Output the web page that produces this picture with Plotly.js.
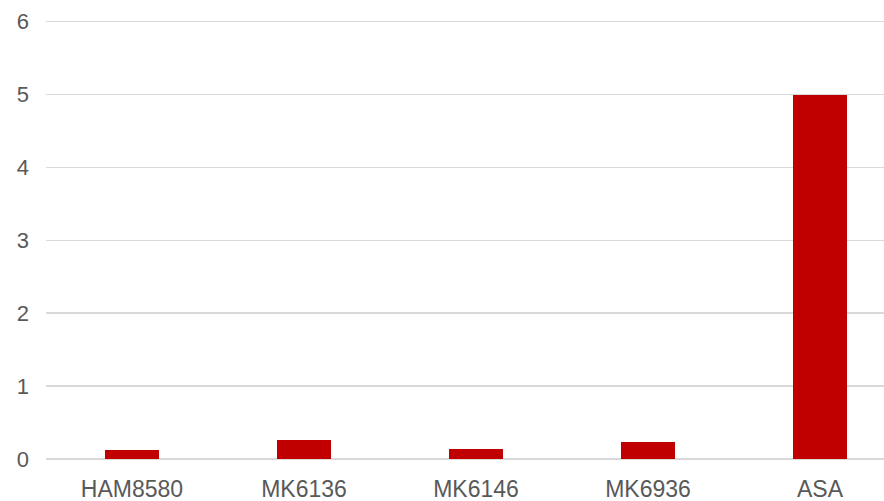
<!DOCTYPE html>
<html>
<head>
<meta charset="utf-8">
<script src="https://cdn.plot.ly/plotly-3.0.1.min.js"></script>
<style>html,body{margin:0;padding:0;background:#fff;}#chart{width:884px;height:501px;}</style>
</head>
<body>
<div id="chart"></div>
<script>
const categories = ["HAM8580", "MK6136", "MK6146", "MK6936", "ASA"];
const values = [0.13, 0.26, 0.14, 0.24, 5.0];
const yTicks = [0, 1, 2, 3, 4, 5, 6];

const trace = {
  type: "bar",
  x: categories,
  y: values,
  width: 0.314,
  marker: { color: "#C00000" },
  hoverinfo: "x+y"
};

const layout = {
  width: 884,
  height: 501,
  margin: { l: 46, r: 0, t: 18, b: 42, pad: 0 },
  paper_bgcolor: "#ffffff",
  plot_bgcolor: "#ffffff",
  font: { family: "Liberation Sans, Arial, sans-serif", color: "#595959", size: 22 },
  showlegend: false,
  bargap: 0,
  xaxis: {
    type: "category",
    range: [-0.5, 4.372],
    showgrid: false,
    showline: false,
    ticks: "",
    tickfont: { size: 23, color: "#595959" },
    ticklabelstandoff: 14,
    fixedrange: true
  },
  yaxis: {
    range: [0, 6.05],
    tickvals: yTicks,
    ticktext: yTicks.map(String),
    showgrid: true,
    gridcolor: "#D9D9D9",
    gridwidth: 1.5,
    zeroline: true,
    zerolinecolor: "#D9D9D9",
    zerolinewidth: 1.5,
    showline: false,
    ticks: "",
    tickfont: { size: 22, color: "#595959" },
    ticklabelstandoff: 16,
    fixedrange: true
  }
};

Plotly.newPlot("chart", [trace], layout, { displayModeBar: false, staticPlot: true });
</script>
</body>
</html>
